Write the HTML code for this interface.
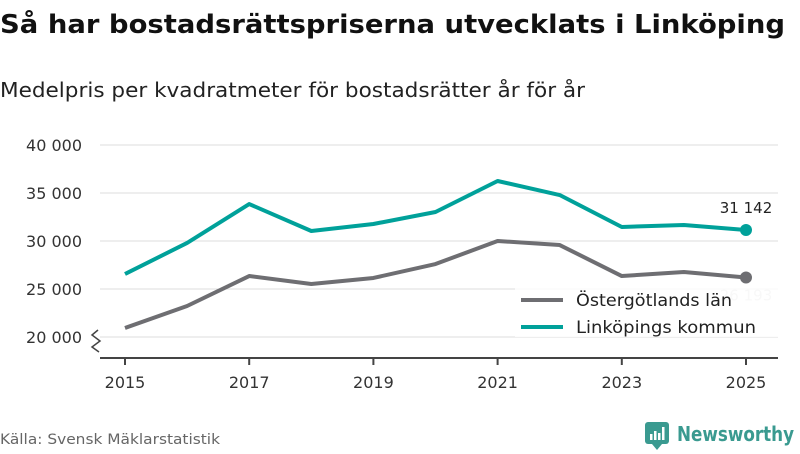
<!DOCTYPE html>
<html><head><meta charset="utf-8"><style>
body{margin:0;width:800px;height:450px;background:#fff;font-family:"DejaVu Sans",sans-serif;overflow:hidden}
</style></head><body>
<svg width="800" height="450" font-family="DejaVu Sans, sans-serif">
<text x="0" y="33" font-size="26" font-weight="bold" fill="#111" textLength="785" lengthAdjust="spacingAndGlyphs">Så har bostadsrättspriserna utvecklats i Linköping</text>
<text x="0" y="97" font-size="20" fill="#222" textLength="585" lengthAdjust="spacingAndGlyphs">Medelpris per kvadratmeter för bostadsrätter år för år</text>
<g id="grid"></g>
<g id="series"></g>
<g id="legend">
<rect x="515" y="285" width="265" height="52" fill="#fff" fill-opacity="0.85"/>
<line x1="521" y1="300" x2="563" y2="300" stroke="#6e6e72" stroke-width="4"/>
<text x="576" y="306" font-size="17" fill="#222" textLength="156" lengthAdjust="spacingAndGlyphs">Östergötlands län</text>
<line x1="521" y1="327" x2="563" y2="327" stroke="#00a19a" stroke-width="4"/>
<text x="576" y="333" font-size="17" fill="#222" textLength="180" lengthAdjust="spacingAndGlyphs">Linköpings kommun</text>
</g>
<text x="0" y="444" font-size="14" fill="#666" textLength="220" lengthAdjust="spacingAndGlyphs">Källa: Svensk Mäklarstatistik</text>
<g>
<rect x="645" y="422" width="24" height="22" rx="3" fill="#3a9a90"/>
<path d="M652 444 L657 450 L662 444Z" fill="#3a9a90"/>
<rect x="650" y="434" width="2.5" height="6" fill="#fff"/><rect x="654" y="431" width="2.5" height="9" fill="#fff"/><rect x="658" y="433" width="2.5" height="7" fill="#fff"/><rect x="662" y="427" width="2.5" height="13" fill="#fff"/>
<text x="677" y="441" font-size="20" font-weight="bold" fill="#3a9a90" textLength="117" lengthAdjust="spacingAndGlyphs">Newsworthy</text>
</g>
</svg>
<script>
const years=[2015,2016,2017,2018,2019,2020,2021,2022,2023,2024,2025];
const ostergotland=[20940,23230,26350,25520,26150,27600,30000,29580,26350,26770,26193];
const linkoping=[26560,29800,33850,31040,31770,33020,36250,34790,31460,31670,31142];
const yTicks=[20000,25000,30000,35000,40000];
const xTicks=[2015,2017,2019,2021,2023,2025];
const NS="http://www.w3.org/2000/svg";
const x=v=>125+(v-2015)*62.1;
const y=v=>337-(v-20000)*0.0096;
function mk(t,a,p){const e=document.createElementNS(NS,t);for(const k in a)e.setAttribute(k,a[k]);p.appendChild(e);return e;}
const grid=document.getElementById('grid'),ser=document.getElementById('series');
const fmt=v=>String(Math.round(v)).replace(/\B(?=(\d{3})+(?!\d))/g,' ');
yTicks.forEach(v=>{
 const l=mk('line',{x1:100,x2:778,y1:y(v),y2:y(v),stroke:'#ddd','stroke-width':1},grid);
 
 
 const t=mk('text',{x:82,y:y(v)+6,'font-size':16,fill:'#333','text-anchor':'end'},grid);
 t.textContent=fmt(v);
 
 
});
const ax=mk('line',{x1:100,x2:778,y1:358,y2:358,stroke:'#444','stroke-width':2},grid);


mk('path',{d:'M98 330 L92 335 L100 341 L92 347 L99 352',fill:'none',stroke:'#444','stroke-width':1.5},grid);
xTicks.forEach(v=>{
 mk('line',{x1:x(v),x2:x(v),y1:358,y2:365,stroke:'#444','stroke-width':2},grid);
 const t=mk('text',{x:x(v),y:388,'font-size':16,fill:'#333','text-anchor':'middle'},grid);
 t.textContent=v;
 
 
});
function line(vals,color,name){
 const p=mk('polyline',{points:vals.map((v,i)=>x(years[i])+','+y(v)).join(' '),fill:'none',stroke:color,'stroke-width':4,'stroke-linejoin':'round'},ser);
 
 
 const n=vals.length-1;
 const c=mk('circle',{cx:x(years[n]),cy:y(vals[n]),r:6,fill:color},ser);
 
 
 return n;
}
line(ostergotland,'#6e6e72','ostergotland-line');
const n=line(linkoping,'#00a19a','linkoping-line');
const lb=mk('text',{x:x(years[n]),y:y(linkoping[n])-17,'font-size':15,fill:'#222','text-anchor':'middle'},ser);
lb.textContent=fmt(linkoping[n]);


const lb2=mk('text',{x:x(years[n]),y:y(ostergotland[n])+23,'font-size':15,fill:'#ccc','text-anchor':'middle'},ser);
lb2.textContent=fmt(ostergotland[n]);


</script>
</body></html>
